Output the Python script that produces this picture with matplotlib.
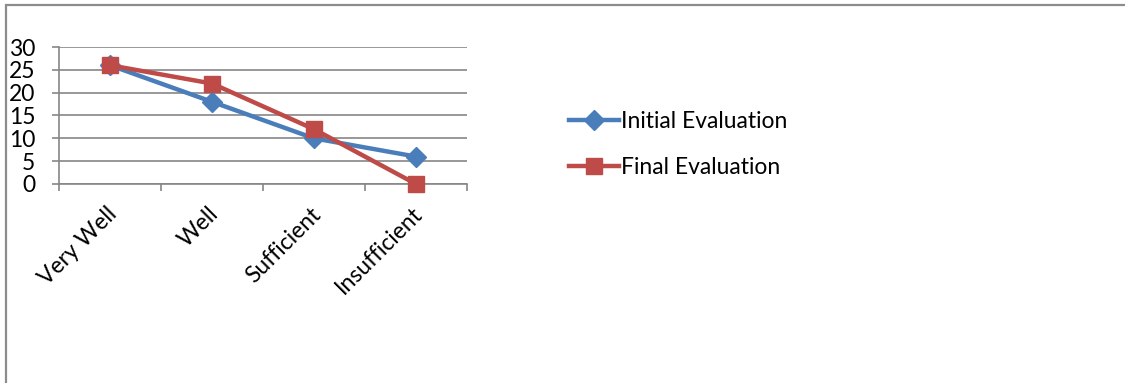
import matplotlib.pyplot as plt
from matplotlib.patches import Rectangle
from matplotlib.lines import Line2D

categorias = ['Very Well', 'Well', 'Sufficient', 'Insufficient']
inicial = [26, 18, 10, 6]
final = [26, 22, 12, 0]

plt.rcParams['font.family'] = ['Lato', 'DejaVu Sans']

fig = plt.figure(figsize=(11.25, 3.83), dpi=100)
ax = fig.add_axes([59/1125, 199/383, 408/1125, 137/383])

# moldura do gráfico
fig.patches.append(Rectangle((6/1125, -0.1), 1.2, 0.1 + 378/383, transform=fig.transFigure,
                             fill=False, edgecolor='#8c8c8c', linewidth=1.6))

x = [i + 0.5 for i in range(len(categorias))]
azul = '#4a7ebb'
verm = '#be4b48'
ax.plot(x, inicial, color=azul, lw=3.2, marker='D', markersize=10, zorder=3, clip_on=False)
ax.plot(x, final, color=verm, lw=3.2, marker='s', markersize=12, zorder=4, clip_on=False)

ax.set_xlim(0, 4)
ax.set_ylim(0, 30)
ax.set_yticks(range(0, 31, 5))
ax.set_xticks(range(0, 5), minor=False)
ax.set_xticklabels([])
# rótulos das categorias no centro de cada intervalo
ax.set_xticks([v - 0.04 for v in x], minor=True)
ax.set_xticklabels(categorias, minor=True, rotation=45, ha='right', va='top',
                   rotation_mode='anchor', fontsize=16.5)
ax.tick_params(axis='x', which='minor', length=0, pad=14)
ax.tick_params(axis='x', which='major', length=5, color='#868686', width=1.2)
ax.tick_params(axis='y', length=5, color='#868686', width=1.2, labelsize=16.5, pad=12)
ax.grid(axis='y', color='#868686', lw=1.2)
ax.set_axisbelow(True)
for s in ['top', 'right']:
    ax.spines[s].set_visible(False)
for s in ['left', 'bottom']:
    ax.spines[s].set_color('#868686')
    ax.spines[s].set_linewidth(1.2)

# legenda
h1 = Line2D([], [], color=azul, lw=3.2, marker='D', markersize=10)
h2 = Line2D([], [], color=verm, lw=3.2, marker='s', markersize=12)
fig.legend([h1, h2], ['Initial Evaluation', 'Final Evaluation'], loc='upper left',
           bbox_to_anchor=(548/1125, 1 - 90/383), frameon=False, fontsize=16.5,
           handlelength=2.2, handletextpad=0.1, labelspacing=1.12)

fig.savefig('out.png', dpi=100)
